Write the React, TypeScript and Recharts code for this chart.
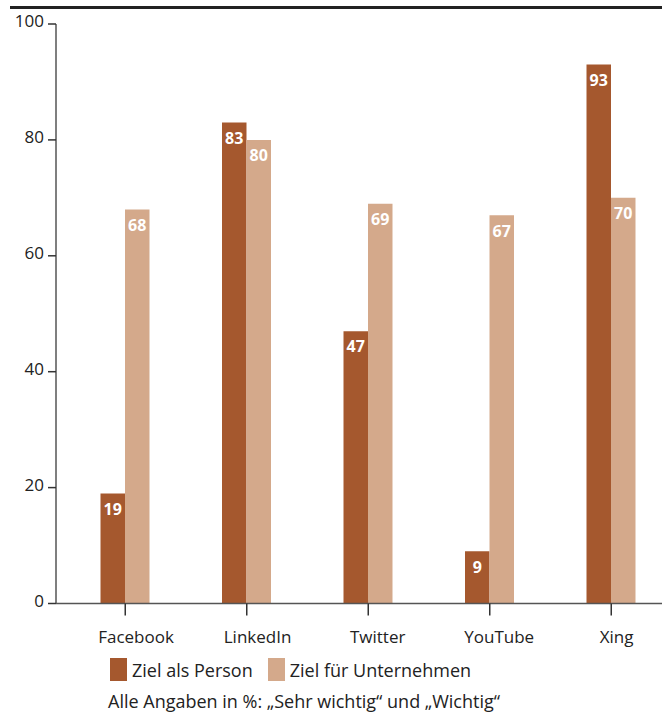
import React from "react";
import { BarChart, Bar, XAxis, YAxis, Legend, LabelList, Text } from "recharts";

const categories = ["Facebook", "LinkedIn", "Twitter", "YouTube", "Xing"];
const zielAlsPerson = [19, 83, 47, 9, 93];
const zielFuerUnternehmen = [68, 80, 69, 67, 70];
const yTicks = [0, 20, 40, 60, 80, 100];
const seriesNames = ["Ziel als Person", "Ziel für Unternehmen"];
const footnote = "Alle Angaben in %: „Sehr wichtig“ und „Wichtig“";

const DARK = "#A5582E";
const LIGHT = "#D4A98B";
const FONT = "'Open Sans', sans-serif";

const data = categories.map((name, i) => ({
  name,
  person: zielAlsPerson[i],
  unternehmen: zielFuerUnternehmen[i],
}));

const XTick = (props: any) => {
  const { x, y, payload } = props;
  const label = String(payload.value);
  const shift = label.length * 1.35;
  return (
    <Text
      x={x + shift}
      y={y}
      textAnchor="middle"
      verticalAnchor="start"
      fontSize={17}
      fill="#222"
      fontFamily={FONT}
    >
      {label}
    </Text>
  );
};

const LegendContent = () => (
  <div style={{ fontFamily: FONT, fontSize: 18, color: "#222" }}>
    <div style={{ display: "flex", alignItems: "center", height: 23 }}>
      <span style={{ display: "inline-block", width: 17, height: 23, background: DARK, marginRight: 5 }} />
      <span style={{ marginRight: 15 }}>{seriesNames[0]}</span>
      <span style={{ display: "inline-block", width: 17, height: 23, background: LIGHT, marginRight: 5 }} />
      <span>{seriesNames[1]}</span>
    </div>
    <div style={{ marginTop: 8, marginLeft: -2, whiteSpace: "nowrap" }}>{footnote}</div>
  </div>
);

export default function App() {
  return (
    <div
      style={{
        position: "absolute",
        left: 0,
        top: 0,
        width: 662,
        height: 713,
        overflow: "hidden",
        background: "#fff",
        fontFamily: FONT,
      }}
    >
      <div
        style={{
          position: "absolute",
          left: 10,
          top: 6,
          width: 652,
          height: 2.5,
          background: "#222",
        }}
      />
      <BarChart
        width={672}
        height={713}
        data={data}
        margin={{ top: 24, right: 0, bottom: 69.5, left: 0 }}
        barGap={0}
        barSize={24.5}
      >
        <XAxis
          dataKey="name"
          padding={{ left: 8.5, right: 0 }}
          tickSize={12}
          tickMargin={15}
          height={40}
          axisLine={{ stroke: "#555", strokeWidth: 1.5 }}
          tickLine={{ stroke: "#333", strokeWidth: 1.5 }}
          tick={<XTick />}
          interval={0}
        />
        <YAxis
          domain={[0, 100]}
          ticks={yTicks}
          width={56}
          tickSize={8}
          tickMargin={4}
          axisLine={{ stroke: "#555", strokeWidth: 1.5 }}
          tickLine={{ stroke: "#333", strokeWidth: 1.5 }}
          tick={{ fontSize: 17, fill: "#222", fontFamily: FONT, dy: -3 }}
          interval={0}
        />
        <Legend
          layout="horizontal"
          verticalAlign="middle"
          align="center"
          content={<LegendContent />}
          wrapperStyle={{ position: "absolute", left: 110, top: 658, width: 520 }}
        />
        <Bar dataKey="person" name={seriesNames[0]} fill={DARK} isAnimationActive={false}>
          <LabelList
            dataKey="person"
            position="insideTop"
            offset={10}
            fill="#fff"
            fontSize={16}
            fontWeight="bold"
            fontFamily={FONT}
          />
        </Bar>
        <Bar dataKey="unternehmen" name={seriesNames[1]} fill={LIGHT} isAnimationActive={false}>
          <LabelList
            dataKey="unternehmen"
            position="insideTop"
            offset={10}
            fill="#fff"
            fontSize={16}
            fontWeight="bold"
            fontFamily={FONT}
          />
        </Bar>
      </BarChart>
    </div>
  );
}
